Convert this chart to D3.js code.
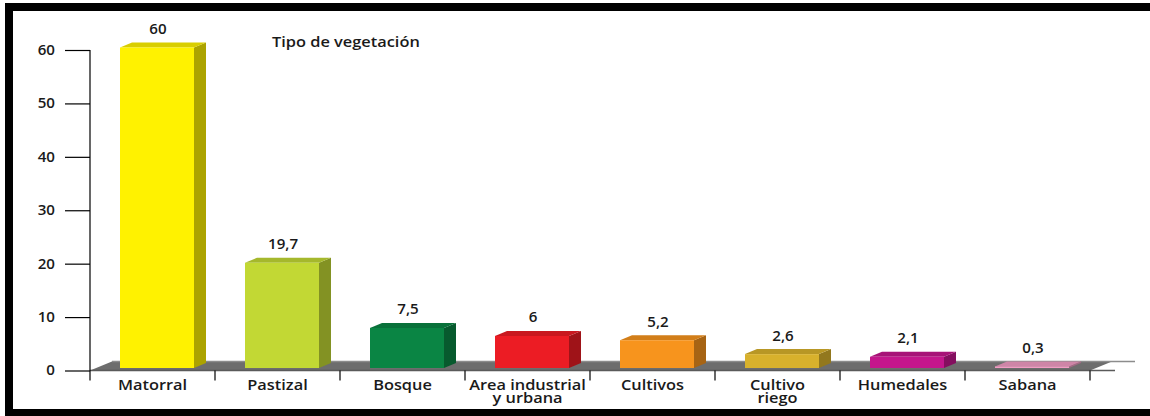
<!DOCTYPE html>
<html>
<head>
<meta charset="utf-8">
<script src="https://cdn.jsdelivr.net/npm/d3@7"></script>
<style>
  html, body { margin: 0; padding: 0; background: #fff; }
  svg { display: block; }
  text { font-family: "Open Sans", "Noto Sans", sans-serif; font-weight: 600; fill: #1a1a1a; }
</style>
</head>
<body>
<svg id="chart" width="1150" height="416"></svg>
<script>
const categories = ["Matorral", "Pastizal", "Bosque", "Area industrial\ny urbana", "Cultivos", "Cultivo\nriego", "Humedales", "Sabana"];
const values = [60, 19.7, 7.5, 6, 5.2, 2.6, 2.1, 0.3];
const valueLabels = ["60", "19,7", "7,5", "6", "5,2", "2,6", "2,1", "0,3"];
const colors = ["#fff200", "#c2d834", "#0a8544", "#ec1c24", "#f7941d", "#d8b12c", "#c4168c", "#f29cc4"];
const yTicks = [0, 10, 20, 30, 40, 50, 60];
const title = "Tipo de vegetación";

const svg = d3.select("#chart");
const stretchText = 1.17, stretchNum = 1.08;

const x = d3.scaleBand().domain(categories).range([90, 1090]).padding(0);
const y = d3.scaleLinear().domain([0, 60]).range([370.5, 50]);

// frame
svg.append("rect")
  .attr("x", 9).attr("y", 7).attr("width", 1200).attr("height", 406)
  .attr("fill", "none").attr("stroke", "#000").attr("stroke-width", 8);

// floor
const depthX = 22, depthY = 9;
const x0 = x.range()[0], x1 = x.range()[1];
svg.append("polygon")
  .attr("points", [[x0, y(0)], [x0 + depthX, y(0) - depthY], [x1 + depthX, y(0) - depthY], [x1, y(0)]].map(p => p.join(",")).join(" "))
  .attr("fill", "#6d6d6d");
svg.append("line")
  .attr("x1", x0 + depthX).attr("x2", 1135).attr("y1", y(0) - depthY).attr("y2", y(0) - depthY)
  .attr("stroke", "#8c8c8c").attr("stroke-width", 1.5);
svg.append("line")
  .attr("x1", x0).attr("x2", 1115).attr("y1", y(0)).attr("y2", y(0))
  .attr("stroke", "#5a5a5a").attr("stroke-width", 1.5);

// y axis
const yAxis = d3.axisLeft(y).tickValues(yTicks).tickSize(25).tickPadding(10).tickFormat(d3.format("d"));
const gy = svg.append("g").attr("transform", `translate(${x0},0)`).call(yAxis);
gy.select(".domain").remove();
gy.selectAll(".tick line").attr("stroke", "#000").attr("stroke-width", 1.2);
gy.selectAll(".tick text")
  .attr("font-size", 14)
  .style("font-family", "'Open Sans', sans-serif").style("font-weight", 600).attr("fill", "#1a1a1a")
  .attr("x", null).attr("transform", `translate(-35,0) scale(${stretchNum},1)`);
svg.append("line")
  .attr("x1", x0).attr("x2", x0).attr("y1", y(60)).attr("y2", y(0) + 10)
  .attr("stroke", "#000").attr("stroke-width", 1.2);

// category separator ticks
const bounds = categories.map(c => x(c)).slice(1).concat([x1]);
svg.selectAll(".sep").data(bounds).enter().append("line")
  .attr("x1", d => d).attr("x2", d => d)
  .attr("y1", y(0)).attr("y2", y(0) + 10)
  .attr("stroke", "#000").attr("stroke-width", 1.2);

// bars
const faceOff = 30, faceW = 74, bDx = 12, bDy = 5, lift = 2.5;
const bars = svg.selectAll(".bar").data(categories.map((c, i) => ({c, v: values[i], lab: valueLabels[i], col: colors[i]})))
  .enter().append("g").attr("class", "bar");

bars.each(function(d) {
  const g = d3.select(this);
  const fx = x(d.c) + faceOff;
  const top = y(d.v) - lift;
  const bot = y(0) - lift;
  const base = d3.color(d.col);
  g.append("polygon")
    .attr("points", [[fx + faceW, bot], [fx + faceW + bDx, bot - bDy], [fx + faceW + bDx, top - bDy], [fx + faceW, top]].map(p => p.join(",")).join(" "))
    .attr("fill", base.darker(1.1));
  g.append("polygon")
    .attr("points", [[fx, top], [fx + bDx, top - bDy], [fx + faceW + bDx, top - bDy], [fx + faceW, top]].map(p => p.join(",")).join(" "))
    .attr("fill", base.darker(0.45));
  g.append("rect")
    .attr("x", fx).attr("y", top).attr("width", faceW).attr("height", Math.max(0.5, bot - top))
    .attr("fill", d.col);
  g.append("text")
    .attr("transform", `translate(${fx + faceW / 2 + 1},${top - bDy - 8.5}) scale(${stretchNum},1)`)
    .attr("text-anchor", "middle").attr("font-size", 14)
    .text(d.lab);
});

// category labels
categories.forEach(d => {
  const cx = x(d) + x.bandwidth() / 2;
  d.split("\n").forEach((line, i) => {
    svg.append("text")
      .attr("class", "cat")
      .attr("transform", `translate(${cx},${390 + i * 13}) scale(${stretchText},1)`)
      .attr("text-anchor", "middle").attr("font-size", 14)
      .text(line);
  });
});

// title
svg.append("text")
  .attr("transform", `translate(272,47) scale(${stretchText},1)`)
  .attr("font-size", 14).text(title);
</script>
</body>
</html>
